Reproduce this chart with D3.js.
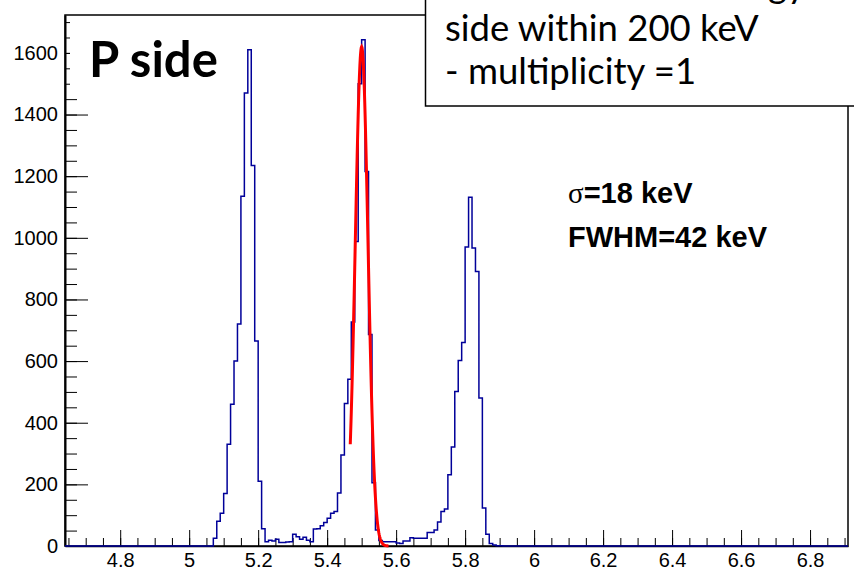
<!DOCTYPE html>
<html>
    <head>
        <meta charset="utf-8">
        <title>P side spectrum</title>
        <style>
            html, body {margin: 0px;padding: 0px;overflow: hidden;background: #ffffff;}
            svg {display: block;}
            .axis text {font-family: "Liberation Sans", Arial, sans-serif;font-size: 20px;fill: #000000;}
            .axis path, .axis line {stroke: #000000;}
        </style>
    </head>
    <body>
        <div id="chart"></div>
        <script src="https://cdn.jsdelivr.net/npm/d3@7"></script>
        <script type="text/javascript">
        // bin width 10 keV, first filled bin at 5.06 MeV
        var binWidth = 0.01;
        var firstBin = 5.06;
        var counts = [
            0, 25, 80, 106, 170, 330, 460, 600, 720, 1135,
            1470, 1610, 1235, 665, 210, 56, 14, 19, 16, 22,
            11, 11, 13, 14, 38, 30, 22, 28, 19, 14,
            55, 56, 66, 76, 90, 106, 112, 172, 295, 462,
            541, 727, 988, 1500, 1643, 1215, 686, 205, 52, 18,
            14, 14, 14, 14, 10, 8, 16, 16, 27, 25,
            25, 25, 25, 44, 44, 52, 78, 112, 120, 231,
            321, 501, 602, 660, 970, 1132, 967, 891, 480, 123,
            38, 8, 3, 1, 1
        ];

        var xDomain = [4.64, 6.91];
        var yDomain = [0, 1723];
        var xTickValues = [4.8, 5, 5.2, 5.4, 5.6, 5.8, 6, 6.2, 6.4, 6.6, 6.8];
        var yTickValues = [0, 200, 400, 600, 800, 1000, 1200, 1400, 1600];

        // gaussian fit on the middle peak
        var fitMean = 5.5, fitSigma = 0.0185, fitAmp = 1620;
        var fitRange = [5.467, 5.578];

        var boxLines = ["- same P and N energy", "side within 200 keV", "- multiplicity =1"];

        // Chart dimensions.
        var margin = {top: 15, right: 6, bottom: 30, left: 65},
            width = 854 - margin.left - margin.right,
            height = 576 - margin.top - margin.bottom;

        var svg = d3.select("#chart").append("svg")
            .attr("width", 854)
            .attr("height", 576);

        var g = svg.append("g")
            .attr("transform", "translate(" + margin.left + "," + margin.top + ")");

        var x = d3.scaleLinear().domain(xDomain).range([0, width]);
        var y = d3.scaleLinear().domain(yDomain).range([height, 0]);

        // frame
        g.append("rect")
            .attr("width", width)
            .attr("height", height)
            .attr("fill", "none")
            .attr("stroke", "#000")
            .attr("stroke-width", 1.5);

        // minor ticks
        g.append("g")
            .attr("class", "axis")
            .attr("transform", "translate(0," + height + ")")
            .call(d3.axisBottom(x).tickValues(x.ticks(50)).tickSize(-8).tickFormat(""))
            .call(function(s) { s.select(".domain").remove(); });
        g.append("g")
            .attr("class", "axis")
            .call(d3.axisLeft(y).tickValues(y.ticks(35)).tickSize(-12).tickFormat(""))
            .call(function(s) { s.select(".domain").remove(); });

        // major ticks + labels
        g.append("g")
            .attr("class", "axis")
            .attr("transform", "translate(0," + height + ")")
            .call(d3.axisBottom(x).tickValues(xTickValues).tickSize(-16).tickPadding(7).tickSizeOuter(0)
                .tickFormat(d3.format("")))
            .call(function(s) { s.select(".domain").attr("stroke-width", 1.5); });
        g.append("g")
            .attr("class", "axis")
            .call(d3.axisLeft(y).tickValues(yTickValues).tickSize(-23).tickPadding(7).tickSizeOuter(0)
                .tickFormat(d3.format("d")))
            .call(function(s) { s.select(".domain").attr("stroke-width", 2); });

        // histogram outline
        var pts = [[xDomain[0], 0], [firstBin, 0]];
        counts.forEach(function(c, i) {
            pts.push([firstBin + i * binWidth, c]);
        });
        pts.push([firstBin + counts.length * binWidth, 0]);
        pts.push([xDomain[1], 0]);

        var stepLine = d3.line()
            .curve(d3.curveStepAfter)
            .x(function(d) { return x(d[0]); })
            .y(function(d) { return y(d[1]); });

        g.append("path")
            .datum(pts)
            .attr("d", stepLine)
            .attr("fill", "none")
            .attr("stroke", "#000099")
            .attr("stroke-width", 1.5);

        // fit curve
        var fitPts = d3.range(fitRange[0], fitRange[1], 0.001).map(function(v) {
            var z = (v - fitMean) / fitSigma;
            return [v, fitAmp * Math.exp(-0.5 * z * z)];
        });
        g.append("path")
            .datum(fitPts)
            .attr("d", d3.line().x(function(d) { return x(d[0]); }).y(function(d) { return y(d[1]); }))
            .attr("fill", "none")
            .attr("stroke", "#ff0000")
            .attr("stroke-width", 3);

        // "P side" label
        svg.append("rect")
            .attr("x", 70).attr("y", 17)
            .attr("width", 168).attr("height", 79)
            .attr("fill", "#fff");
        svg.append("text")
            .attr("x", 89).attr("y", 77)
            .style("font-family", "Lato, 'Noto Sans', sans-serif")
            .style("font-weight", 700)
            .style("font-size", "49px")
            .text("P side");

        // selection box, top right
        svg.append("rect")
            .attr("x", 425.5).attr("y", -20)
            .attr("width", 500).attr("height", 126)
            .attr("fill", "#fff")
            .attr("stroke", "#000")
            .attr("stroke-width", 1.5);
        svg.append("g").selectAll("text")
            .data(boxLines)
          .enter().append("text")
            .attr("x", 445)
            .attr("y", function(d, i) { return -2 + i * 43; })
            .style("font-family", "Lato, 'Noto Sans', sans-serif")
            .style("font-size", "36.5px")
            .text(function(d) { return d; });

        // fit results
        var res = svg.append("g")
            .style("font-family", "'Liberation Sans', Arial, sans-serif")
            .style("font-weight", 700)
            .style("font-size", "29px");
        var t1 = res.append("text").attr("x", 568).attr("y", 203);
        t1.append("tspan").style("font-family", "'Liberation Serif', serif").style("font-weight", 400).text("σ");
        t1.append("tspan").text("=18 keV");
        res.append("text").attr("x", 568).attr("y", 247).text("FWHM=42 keV");
        </script>
    </body>
</html>
